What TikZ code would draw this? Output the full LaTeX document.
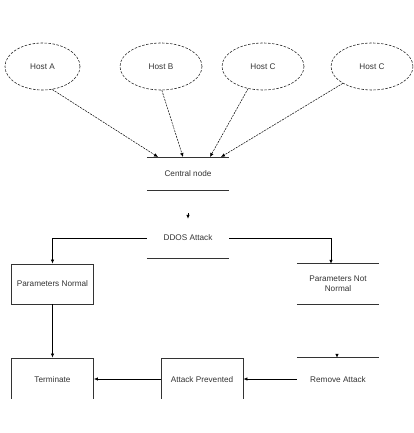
\documentclass[tikz,border=0pt]{standalone}
\usepackage{fontspec}
\setmainfont{Liberation Sans}
\usetikzlibrary{arrows.meta,shapes.geometric,calc}
\begin{document}
\begin{tikzpicture}[x=1pt,y=-1pt,
  txt/.style={font=\fontsize{8.2}{10}\selectfont,text=black!80},
  host/.style={ellipse,draw=black!85,line width=0.6pt,dash pattern=on 2.5pt off 1.5pt,minimum width=82pt,minimum height=47pt,inner sep=0pt,txt},
  plain/.style={minimum width=82pt,minimum height=40pt,inner sep=0pt,txt,align=center},
  boxnode/.style={plain,draw=black!80,line width=0.8pt},
  edge/.style={draw=black,line width=0.7pt},
  arr/.style={-{Latex[length=4pt,width=3.5pt]}},
  hline/.style={draw=black!80,line width=0.8pt}]
\useasboundingbox (0,0) rectangle (413,433);
\begin{scope}
\clip (0,0) rectangle (413,398);
% hosts
\node[host,minimum width=75pt] (hA) at (42.5,66.5) {Host A};
\node[host] (hB) at (161,66.5) {Host B};
\node[host] (hC) at (263,66.5) {Host C};
\node[host] (hD) at (372,66.5) {Host C};
% central node
\node[plain,minimum height=33pt] (cn) at (188,174) {Central node};
\draw[hline] (cn.north west) -- (cn.north east);
\draw[hline] (cn.south west) -- (cn.south east);
\coordinate (e1) at (158,157);
\coordinate (e2) at (183,157);
\coordinate (e3) at (210,157);
\coordinate (e4) at (221,157);
\draw[edge,arr,dash pattern=on 2pt off 1pt,line width=0.5pt] (hA.-67) -- (e1);
\draw[edge,arr,dash pattern=on 2pt off 1pt,line width=0.5pt] (hB.-88) -- (e2);
\draw[edge,arr,dash pattern=on 2pt off 1pt,line width=0.5pt] (hC.-124) -- (e3);
\draw[edge,arr,dash pattern=on 2pt off 1pt,line width=0.5pt] (hD.-150) -- (e4);
% DDOS
\node[plain] (dd) at (188,238) {DDOS Attack};
\draw[hline] (dd.south west) -- (dd.south east);
\coordinate (dtop) at (188,213);
\draw[edge,arr] (dtop) -- ([yshift=-1pt]dd.north);
% parameters
\node[boxnode] (pn) at (52.5,284) {Parameters Normal};
\node[plain] (pnn) at (338,284) {Parameters Not\\Normal};
\draw[hline] (pnn.north west) -- (pnn.north east);
\draw[hline] (pnn.south west) -- (pnn.south east);
\draw[edge,arr] (dd.west) -| (pn.north);
\draw[edge,arr] (dd.east) -| ([xshift=-7pt]pnn.north);
% bottom row
\node[boxnode,minimum height=44pt] (tm) at (52.5,380) {Terminate};
\node[boxnode,minimum height=44pt] (ap) at (202,380) {Attack Prevented};
\node[plain,minimum height=44pt] (ra) at (338,380) {Remove Attack};
\draw[hline] (ra.north west) -- (ra.north east);
\coordinate (rtop) at (337,354);
\draw[edge,arr] (rtop) -- (ra.north -| rtop);
\draw[edge,arr] (pn.south) -- (tm.north);
\draw[edge,arr] (ra.west |- 0,379) -- (ap.east |- 0,379);
\draw[edge,arr] (ap.west |- 0,379) -- (tm.east |- 0,379);
\end{scope}
\end{tikzpicture}
\end{document}
